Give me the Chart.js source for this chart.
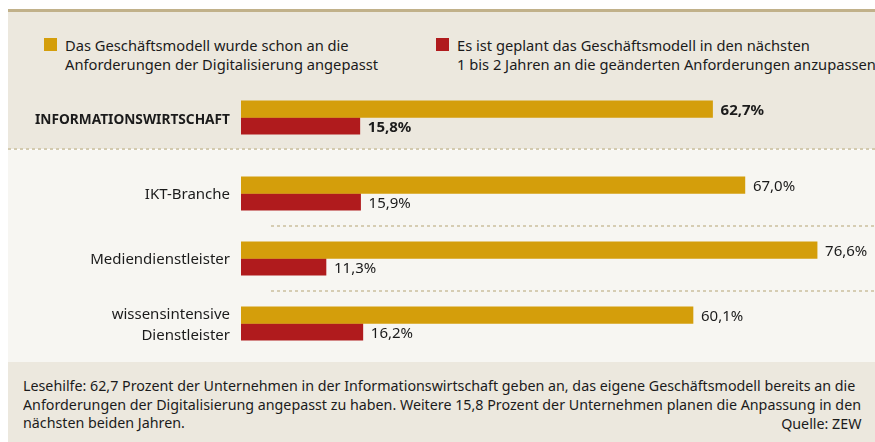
<!DOCTYPE html>
<html>
<head>
<meta charset="utf-8">
<script src="https://cdn.jsdelivr.net/npm/chart.js@4.4.1/dist/chart.umd.min.js"></script>
<style>
    body { margin: 0; width: 875px; height: 442px; background: #fff; position: relative; overflow: hidden; font-family: 'Noto Sans', sans-serif; color: #1b1b1b; }
    .regel { position: absolute; left: 8px; top: 9px; width: 867px; height: 3px; background: #c1b18a; }
    .oben { position: absolute; left: 8px; top: 12px; width: 867px; height: 137px; background: #ece8de; }
    .punkte { position: absolute; left: 8px; top: 148px; width: 867px; height: 2px; background: repeating-linear-gradient(to right, #d3caae 0 3px, transparent 3px 6px); }
    .mitte { position: absolute; left: 8px; top: 150px; width: 867px; height: 212px; background: #f7f6f2; }
    .unten { position: absolute; left: 8px; top: 362px; width: 867px; height: 80px; background: #ece8de; }
    .leg { position: absolute; top: 36px; font-size: 14.7px; line-height: 18.5px; white-space: nowrap; }
    .leg i { position: absolute; left: -21px; top: 2px; width: 13px; height: 13px; }
    #fussnote { position: absolute; left: 23px; top: 376px; font-size: 15px; line-height: 18.7px; white-space: nowrap; transform-origin: left top; }
    #quelle { position: absolute; right: 14px; top: 413.5px; font-size: 15px; line-height: 18.7px; white-space: nowrap; transform-origin: right top; }
    canvas { position: absolute; left: 0; display: block; }
</style>
</head>
<body>
<div class="regel"></div>
<div class="oben"></div>
<div class="punkte"></div>
<div class="mitte"></div>
<div class="unten"></div>

<div class="leg" style="left:65px"><i style="background:#d49e0b"></i>Das Geschäftsmodell wurde schon an die<br>Anforderungen der Digitalisierung angepasst</div>
<div class="leg" style="left:457px"><i style="background:#b01b1d"></i>Es ist geplant das Geschäftsmodell in den nächsten<br>1 bis 2 Jahren an die geänderten Anforderungen anzupassen</div>

<canvas id="chartOben" width="875" height="57" style="top:89px"></canvas>
<canvas id="chartUnten" width="875" height="195" style="top:161px"></canvas>

<div id="fussnote">Lesehilfe: 62,7 Prozent der Unternehmen in der Informationswirtschaft geben an, das eigene Geschäftsmodell bereits an die<br>Anforderungen der Digitalisierung angepasst zu haben. Weitere 15,8 Prozent der Unternehmen planen die Anpassung in den<br>nächsten beiden Jahren.</div>
<div id="quelle">Quelle: ZEW</div>

<script>
// Daten
const kategorieOben = ['INFORMATIONSWIRTSCHAFT'];
const kategorienUnten = ['IKT-Branche', 'Mediendienstleister', ['wissensintensive', 'Dienstleister']];
const schonAngepasstOben = [62.7];
const geplantOben = [15.8];
const schonAngepasstUnten = [67.0, 76.6, 60.1];
const geplantUnten = [15.9, 11.3, 16.2];
const xMax = 84.3;

const GOLD = '#d49e0b';
const ROT = '#b01b1d';
const TEXT = '#1b1b1b';

// Werte rechts neben den Balken
const wertePlugin = {
    id: 'werte',
    afterDatasetsDraw(chart, args, opts) {
        const ctx = chart.ctx;
        ctx.save();
        ctx.font = (opts.bold ? 'bold ' : '') + '15px "Noto Sans"';
        ctx.fillStyle = TEXT;
        ctx.textBaseline = 'middle';
        ctx.textAlign = 'left';
        chart.data.datasets.forEach((ds, i) => {
            chart.getDatasetMeta(i).data.forEach((bar, j) => {
                const txt = ds.data[j].toFixed(1).replace('.', ',') + '%';
                ctx.fillText(txt, bar.x + 8, bar.y + 1.5);
            });
        });
        ctx.restore();
    }
};

// gepunktete Trennlinien zwischen den Kategorien
const trennPlugin = {
    id: 'trenner',
    beforeDatasetsDraw(chart, args, opts) {
        if (!opts.aktiv) return;
        const y = chart.scales.y;
        const ctx = chart.ctx;
        ctx.save();
        ctx.strokeStyle = '#d6cdb3';
        ctx.lineWidth = 2;
        ctx.setLineDash([3, 3]);
        for (let i = 0; i < y.ticks.length - 1; i++) {
            const py = Math.round((y.getPixelForTick(i) + y.getPixelForTick(i + 1)) / 2);
            ctx.beginPath();
            ctx.moveTo(chart.chartArea.left + 30, py);
            ctx.lineTo(chart.chartArea.right, py);
            ctx.stroke();
        }
        ctx.restore();
    }
};

function baueChart(id, labels, gold, rot, fett, trenner) {
    return new Chart(document.getElementById(id), {
        type: 'bar',
        data: {
            labels: labels,
            datasets: [
                { label: 'Das Geschäftsmodell wurde schon an die Anforderungen der Digitalisierung angepasst', data: gold, backgroundColor: GOLD, barThickness: 16.6 },
                { label: 'Es ist geplant das Geschäftsmodell in den nächsten 1 bis 2 Jahren an die geänderten Anforderungen anzupassen', data: rot, backgroundColor: ROT, barThickness: 16.6 }
            ]
        },
        options: {
            indexAxis: 'y',
            responsive: false,
            animation: false,
            devicePixelRatio: 1,
            layout: { padding: 0 },
            plugins: {
                legend: { display: false },
                tooltip: { enabled: false },
                werte: { bold: fett },
                trenner: { aktiv: trenner }
            },
            scales: {
                x: { display: false, min: 0, max: xMax },
                y: {
                    grid: { display: false, drawTicks: false },
                    border: { display: false },
                    ticks: {
                        color: TEXT,
                        padding: 11,
                        labelOffset: fett ? 3 : 1.5,
                        font: { family: 'Noto Sans', size: fett ? 13.7 : 15, weight: fett ? 'bold' : 'normal', lineHeight: 1.4 }
                    },
                    afterFit(scale) {
                        scale.width = 241;
                        scale.paddingTop = 0;
                        scale.paddingBottom = 0;
                    }
                }
            }
        },
        plugins: [wertePlugin, trennPlugin]
    });
}

baueChart('chartOben', kategorieOben, schonAngepasstOben, geplantOben, true, false);
baueChart('chartUnten', kategorienUnten, schonAngepasstUnten, geplantUnten, false, true);

// Fußnote auf die Breite des Originals bringen
const fn = document.getElementById('fussnote');
const k = 838 / fn.getBoundingClientRect().width;
fn.style.transform = 'scaleX(' + k + ')';
document.getElementById('quelle').style.transform = 'scaleX(' + k + ')';
</script>
</body>
</html>
